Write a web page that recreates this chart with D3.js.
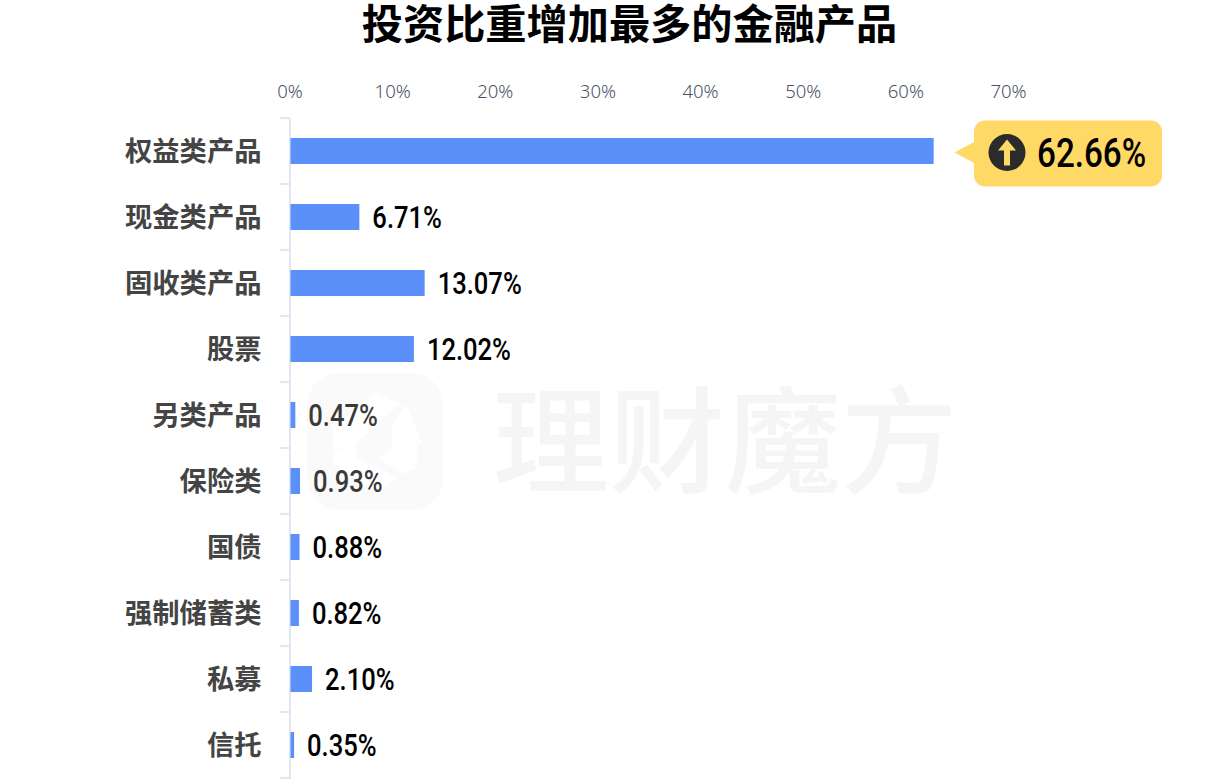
<!DOCTYPE html>
<html>
<head>
<meta charset="utf-8">
<script src="https://cdn.jsdelivr.net/npm/d3@7"></script>
<style>
  html, body { margin: 0; padding: 0; background: #fff; }
  svg { display: block; }
</style>
</head>
<body>
<div id="chart"></div>
<script>
const chartTitle = "投资比重增加最多的金融产品";
const watermarkText = "理财魔方";
const categories = ["权益类产品", "现金类产品", "固收类产品", "股票", "另类产品", "保险类", "国债", "强制储蓄类", "私募", "信托"];
const shares = [62.66, 6.71, 13.07, 12.02, 0.47, 0.93, 0.88, 0.82, 2.10, 0.35];
const axisTicks = [0, 10, 20, 30, 40, 50, 60, 70];
const highlighted = "权益类产品";
const softLabels = ["另类产品", "保险类"];

const width = 1215, height = 783;

const svg = d3.select("#chart").append("svg")
  .attr("width", width)
  .attr("height", height)
  .attr("viewBox", [0, 0, width, height]);

const x = d3.scaleLinear().domain([0, 70]).range([290.5, 1009]);
const y = d3.scaleBand().domain(categories).range([118, 778]);
const barHeight = 26;

// Roboto es más ancha que la fuente original, se comprime
function squeeze(sel, ratio) {
  sel.each(function() {
    d3.select(this)
      .attr("textLength", this.getComputedTextLength() * ratio)
      .attr("lengthAdjust", "spacingAndGlyphs");
  });
}

// marca de agua
const mark = svg.append("g");
mark.append("rect")
  .attr("x", 307).attr("y", 373)
  .attr("width", 136).attr("height", 137)
  .attr("rx", 32)
  .attr("fill", "#fafafa");
mark.append("path")
  .attr("d", "M333 428 L375 392 L399 404 L357 443 L333 451 Z M406 404 L422 443 L417 446 L417 468 L403 474 L378 458 L392 448 L392 425 Z M333 453 L355 443 L357 458 L397 478 L377 493 L333 465 Z")
  .attr("fill", "#fff");
mark.append("text")
  .attr("x", 493).attr("y", 484)
  .attr("font-family", "'Noto Sans CJK SC'")
  .attr("font-size", 116)
  .attr("font-weight", 500)
  .attr("fill", "#f5f5f5")
  .text(watermarkText);

svg.append("text")
  .attr("x", 629.5).attr("y", 39)
  .attr("text-anchor", "middle")
  .attr("font-family", "'Noto Sans CJK SC'")
  .attr("font-size", 41.2)
  .attr("font-weight", 700)
  .attr("fill", "#000")
  .text(chartTitle);

// eje de porcentajes
svg.append("g")
  .selectAll("text")
  .data(axisTicks)
  .join("text")
  .attr("x", d => x(d) - 0.5)
  .attr("y", 98)
  .attr("text-anchor", "middle")
  .attr("font-family", "'Noto Sans'")
  .attr("font-size", 18.5)
  .attr("font-weight", 300)
  .attr("fill", "#4a5266")
  .text(d => d + "%");

// eje de categorías
const yAxis = svg.append("g")
  .attr("transform", "translate(289.5,0)")
  .call(d3.axisLeft(y).tickSize(0).tickPadding(28).tickFormat(d => d));
yAxis.select(".domain").attr("stroke", "#e2e6f0").attr("stroke-width", 2);
yAxis.selectAll("text")
  .attr("font-family", "'Noto Sans CJK SC'")
  .attr("font-size", 27.3)
  .attr("font-weight", 700)
  .attr("fill", "#444")
  .attr("dy", "0.37em");

svg.append("g")
  .selectAll("line")
  .data(d3.range(categories.length + 1))
  .join("line")
  .attr("x1", 280).attr("x2", 290)
  .attr("y1", i => 118 + i * y.step())
  .attr("y2", i => 118 + i * y.step())
  .attr("stroke", "#e2e6f0")
  .attr("stroke-width", 2);

svg.append("g")
  .selectAll("rect")
  .data(categories)
  .join("rect")
  .attr("x", x(0))
  .attr("y", d => y(d) + (y.bandwidth() - barHeight) / 2)
  .attr("width", (d, i) => x(shares[i]) - x(0))
  .attr("height", barHeight)
  .attr("fill", "#5b8ff9");

// etiquetas de valor
svg.append("g")
  .selectAll("text")
  .data(categories.filter(d => d !== highlighted))
  .join("text")
  .attr("x", d => x(shares[categories.indexOf(d)]) + 13)
  .attr("y", d => y(d) + y.bandwidth() / 2 + 11)
  .attr("font-family", "Roboto")
  .attr("font-size", 31)
  .attr("font-weight", 500)
  .attr("fill", d => softLabels.includes(d) ? "#3a3a3a" : "#000")
  .text(d => shares[categories.indexOf(d)].toFixed(2) + "%")
  .call(squeeze, 0.825);

// globo del valor destacado
const topIndex = categories.indexOf(highlighted);
const calloutY = y(highlighted) + y.bandwidth() / 2 + 1.5;
const callout = svg.append("g").attr("transform", `translate(974,${calloutY})`);
callout.append("path")
  .attr("d", "M-19.5 0 L1 -11 L1 11 Z")
  .attr("fill", "#ffd966");
callout.append("rect")
  .attr("x", 0).attr("y", -32)
  .attr("width", 188).attr("height", 66)
  .attr("rx", 11)
  .attr("fill", "#ffd966");
callout.append("circle")
  .attr("cx", 33).attr("cy", 0)
  .attr("r", 18.5)
  .attr("fill", "#2b2b2b");
callout.append("path")
  .attr("d", "M33 -13 L42 -2 L36 -2 L36 13 L30 13 L30 -2 L24 -2 Z")
  .attr("fill", "#ffd966");
callout.append("text")
  .attr("x", 63).attr("y", 14)
  .attr("font-family", "Roboto")
  .attr("font-size", 41)
  .attr("font-weight", 500)
  .attr("fill", "#000")
  .text(shares[topIndex].toFixed(2) + "%")
  .call(squeeze, 0.81);
</script>
</body>
</html>
